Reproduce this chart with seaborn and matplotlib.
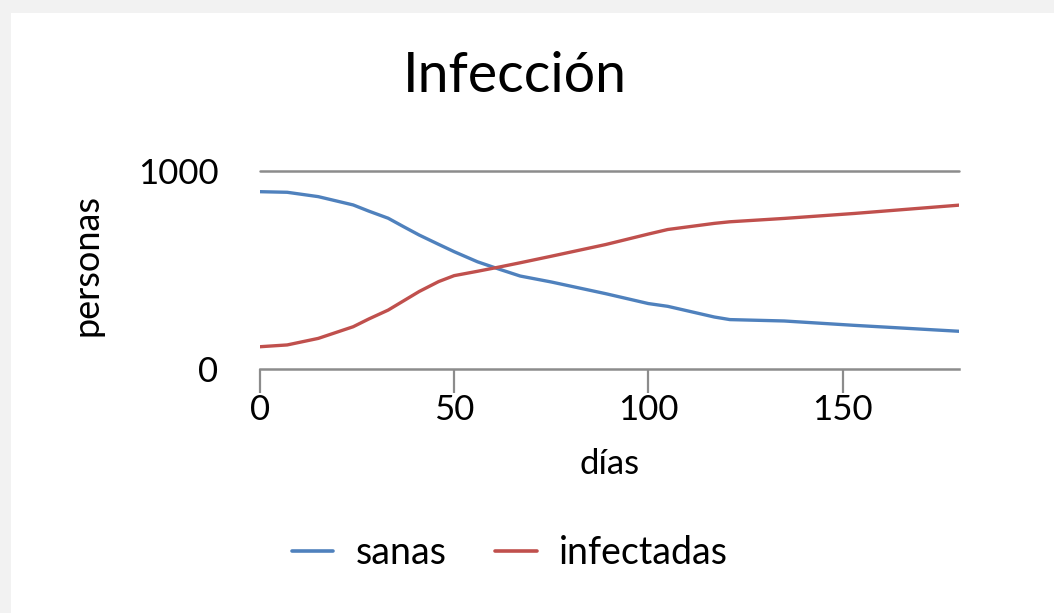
import numpy as np
import pandas as pd
import matplotlib
matplotlib.use("Agg")
import matplotlib.pyplot as plt
from matplotlib.patches import Rectangle
import seaborn as sns

# --- values ---
dias = [0, 7, 15, 24, 28, 33, 37, 41, 46, 50, 56, 62, 67, 75, 89, 100, 105, 117, 121, 135, 153, 180]
sanas = [894, 891, 869, 827, 796, 760, 717, 675, 628, 591, 540, 500, 468, 438, 379, 329, 315, 261, 248, 241, 219, 189]
infectadas = [111, 120, 153, 212, 251, 296, 343, 390, 440, 470, 492, 515, 535, 568, 627, 680, 703, 734, 742, 759, 784, 826]
series = ["sanas", "infectadas"]
colors = ["#4f81bd", "#c0504d"]
x_ticks = [0, 50, 100, 150]
y_ticks = [0, 1000]

W, H = 1054, 613

sns.set_style("white")
plt.rcParams["font.family"] = ["Lato", "DejaVu Sans"]
plt.rcParams["font.weight"] = "normal"
plt.rcParams["axes.labelweight"] = "normal"
plt.rcParams["text.color"] = "black"

df = pd.DataFrame({
    "días": dias * 2,
    "personas": sanas + infectadas,
    "serie": ["sanas"] * len(dias) + ["infectadas"] * len(dias),
})

fig = plt.figure(figsize=(W / 100, H / 100), dpi=100, facecolor="#f2f2f2")
# white card on the light gray background
fig.patches.append(Rectangle((11 / W, 0), 1, 1 - 12.7 / H, transform=fig.transFigure,
                             facecolor="white", edgecolor="none", zorder=-10))

left, right = 260 / W, 959 / W
top, bottom = 1 - 170.7 / H, 1 - 368.7 / H
ax = fig.add_axes([left, bottom, right - left, top - bottom])
ax.set_facecolor("none")

sns.lineplot(data=df, x="días", y="personas", hue="serie", hue_order=series,
             palette=colors, linewidth=2.4, ax=ax, legend=False, sort=True, zorder=3)

ax.set_xlim(0, 180)
ax.set_ylim(0, 1000)
ax.set_xticks(x_ticks)
ax.set_yticks(y_ticks)
ax.set_yticklabels([str(v) for v in y_ticks])
ax.set_xticklabels([str(v) for v in x_ticks])

gray = "#8c8c8c"
for side in ["left", "right", "top"]:
    ax.spines[side].set_visible(False)
ax.spines["bottom"].set_color(gray)
ax.spines["bottom"].set_linewidth(1.8)
ax.axhline(1000, color=gray, linewidth=1.8, zorder=1, clip_on=False)

ax.tick_params(axis="x", bottom=True, direction="out", length=17.5, width=1.6, color=gray,
               labelsize=25, pad=1, labelcolor="black")
ax.tick_params(axis="y", left=False, length=0, labelsize=25, pad=30, labelcolor="black")

ax.set_xlabel("días", fontsize=25, color="black", fontweight="normal")
ax.set_ylabel("personas", fontsize=26, color="black", fontweight="normal")
ax.xaxis.set_label_coords(0.5007, -0.40)
ax.yaxis.set_label_coords(-0.2246, 0.524)

fig.text(515 / W, 1 - 92 / H, "Infección", fontsize=40, ha="center", va="baseline",
         color="black")

handles = [plt.Line2D([], [], color=c, linewidth=2.6) for c in colors]
fig.legend(handles, series, loc="center", bbox_to_anchor=(510 / W, 1 - 553 / H),
           ncol=2, frameon=False, fontsize=27, handlelength=1.1, handletextpad=0.6,
           columnspacing=1.3)

fig.savefig("out.png", dpi=100, facecolor=fig.get_facecolor())
